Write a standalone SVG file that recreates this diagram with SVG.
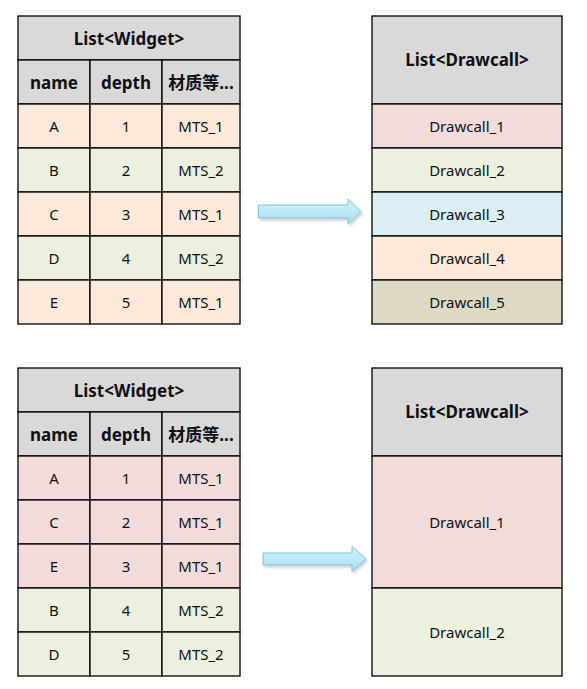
<svg xmlns="http://www.w3.org/2000/svg" width="587" height="689" viewBox="0 0 587 689">
<style>
.c{stroke:#000;stroke-width:1.3}
.h{fill:#d9d9d9}.o{fill:#fde9d9}.g{fill:#ebf1de}.p{fill:#f2dcdb}.b{fill:#daeef3}.t{fill:#ddd9c4}
text{font-family:"Noto Sans","Noto Sans CJK SC",sans-serif;fill:#111;text-anchor:middle;dominant-baseline:central}
.hb{font-weight:bold;font-size:17px}
.n{font-size:15px}
.arr{fill:url(#ag);stroke:#7cc3dc;stroke-width:1}
</style>
<defs>
<linearGradient id="ag" x1="0" y1="0" x2="0" y2="1">
<stop offset="0" stop-color="#d3f2fc"/>
<stop offset="1" stop-color="#a6dff2"/>
</linearGradient>
<filter id="sh" x="-10%" y="-30%" width="130%" height="180%">
<feDropShadow dx="1.5" dy="2" stdDeviation="1.5" flood-color="#000" flood-opacity="0.2"/>
</filter>
</defs>

<g id="widget-list-1">
<rect class="c h" x="18" y="16" width="222" height="44"/>
<text class="hb" x="129" y="38">List&lt;Widget&gt;</text>
<rect class="c h" x="18" y="60" width="72" height="44"/><text class="hb" x="54" y="82">name</text>
<rect class="c h" x="90" y="60" width="72" height="44"/><text class="hb" x="126" y="82">depth</text>
<rect class="c h" x="162" y="60" width="78" height="44"/><text class="hb" x="201" y="82">材质等...</text>
<rect class="c o" x="18" y="104" width="72" height="44"/><text class="n" x="54" y="126">A</text>
<rect class="c o" x="90" y="104" width="72" height="44"/><text class="n" x="126" y="126">1</text>
<rect class="c o" x="162" y="104" width="78" height="44"/><text class="n" x="201" y="126">MTS_1</text>
<rect class="c g" x="18" y="148" width="72" height="44"/><text class="n" x="54" y="170">B</text>
<rect class="c g" x="90" y="148" width="72" height="44"/><text class="n" x="126" y="170">2</text>
<rect class="c g" x="162" y="148" width="78" height="44"/><text class="n" x="201" y="170">MTS_2</text>
<rect class="c o" x="18" y="192" width="72" height="44"/><text class="n" x="54" y="214">C</text>
<rect class="c o" x="90" y="192" width="72" height="44"/><text class="n" x="126" y="214">3</text>
<rect class="c o" x="162" y="192" width="78" height="44"/><text class="n" x="201" y="214">MTS_1</text>
<rect class="c g" x="18" y="236" width="72" height="44"/><text class="n" x="54" y="258">D</text>
<rect class="c g" x="90" y="236" width="72" height="44"/><text class="n" x="126" y="258">4</text>
<rect class="c g" x="162" y="236" width="78" height="44"/><text class="n" x="201" y="258">MTS_2</text>
<rect class="c o" x="18" y="280" width="72" height="44"/><text class="n" x="54" y="302">E</text>
<rect class="c o" x="90" y="280" width="72" height="44"/><text class="n" x="126" y="302">5</text>
<rect class="c o" x="162" y="280" width="78" height="44"/><text class="n" x="201" y="302">MTS_1</text>
</g>

<g id="drawcall-list-1">
<rect class="c h" x="372" y="16" width="190" height="88"/>
<text class="hb" x="467" y="59">List&lt;Drawcall&gt;</text>
<rect class="c p" x="372" y="104" width="190" height="44"/><text class="n" x="467" y="126">Drawcall_1</text>
<rect class="c g" x="372" y="148" width="190" height="44"/><text class="n" x="467" y="170">Drawcall_2</text>
<rect class="c b" x="372" y="192" width="190" height="44"/><text class="n" x="467" y="214">Drawcall_3</text>
<rect class="c o" x="372" y="236" width="190" height="44"/><text class="n" x="467" y="258">Drawcall_4</text>
<rect class="c t" x="372" y="280" width="190" height="44"/><text class="n" x="467" y="302">Drawcall_5</text>
</g>

<g id="widget-list-2">
<rect class="c h" x="18" y="368" width="222" height="44"/>
<text class="hb" x="129" y="390">List&lt;Widget&gt;</text>
<rect class="c h" x="18" y="412" width="72" height="44"/><text class="hb" x="54" y="434">name</text>
<rect class="c h" x="90" y="412" width="72" height="44"/><text class="hb" x="126" y="434">depth</text>
<rect class="c h" x="162" y="412" width="78" height="44"/><text class="hb" x="201" y="434">材质等...</text>
<rect class="c p" x="18" y="456" width="72" height="44"/><text class="n" x="54" y="478">A</text>
<rect class="c p" x="90" y="456" width="72" height="44"/><text class="n" x="126" y="478">1</text>
<rect class="c p" x="162" y="456" width="78" height="44"/><text class="n" x="201" y="478">MTS_1</text>
<rect class="c p" x="18" y="500" width="72" height="44"/><text class="n" x="54" y="522">C</text>
<rect class="c p" x="90" y="500" width="72" height="44"/><text class="n" x="126" y="522">2</text>
<rect class="c p" x="162" y="500" width="78" height="44"/><text class="n" x="201" y="522">MTS_1</text>
<rect class="c p" x="18" y="544" width="72" height="44"/><text class="n" x="54" y="566">E</text>
<rect class="c p" x="90" y="544" width="72" height="44"/><text class="n" x="126" y="566">3</text>
<rect class="c p" x="162" y="544" width="78" height="44"/><text class="n" x="201" y="566">MTS_1</text>
<rect class="c g" x="18" y="588" width="72" height="44"/><text class="n" x="54" y="610">B</text>
<rect class="c g" x="90" y="588" width="72" height="44"/><text class="n" x="126" y="610">4</text>
<rect class="c g" x="162" y="588" width="78" height="44"/><text class="n" x="201" y="610">MTS_2</text>
<rect class="c g" x="18" y="632" width="72" height="44"/><text class="n" x="54" y="654">D</text>
<rect class="c g" x="90" y="632" width="72" height="44"/><text class="n" x="126" y="654">5</text>
<rect class="c g" x="162" y="632" width="78" height="44"/><text class="n" x="201" y="654">MTS_2</text>
</g>

<g id="drawcall-list-2">
<rect class="c h" x="372" y="368" width="190" height="88"/>
<text class="hb" x="467" y="411">List&lt;Drawcall&gt;</text>
<rect class="c p" x="372" y="456" width="190" height="132"/><text class="n" x="467" y="522">Drawcall_1</text>
<rect class="c g" x="372" y="588" width="190" height="88"/><text class="n" x="467" y="632">Drawcall_2</text>
</g>

<g id="connectors">
<path class="arr" filter="url(#sh)" d="M258.5,205 H348 V199 L361,211.5 L348,224 V218 H258.5 Z"/>
<path class="arr" filter="url(#sh)" d="M263,553 H352 V546.5 L366,559 L352,571.5 V565 H263 Z"/>
</g>
</svg>
